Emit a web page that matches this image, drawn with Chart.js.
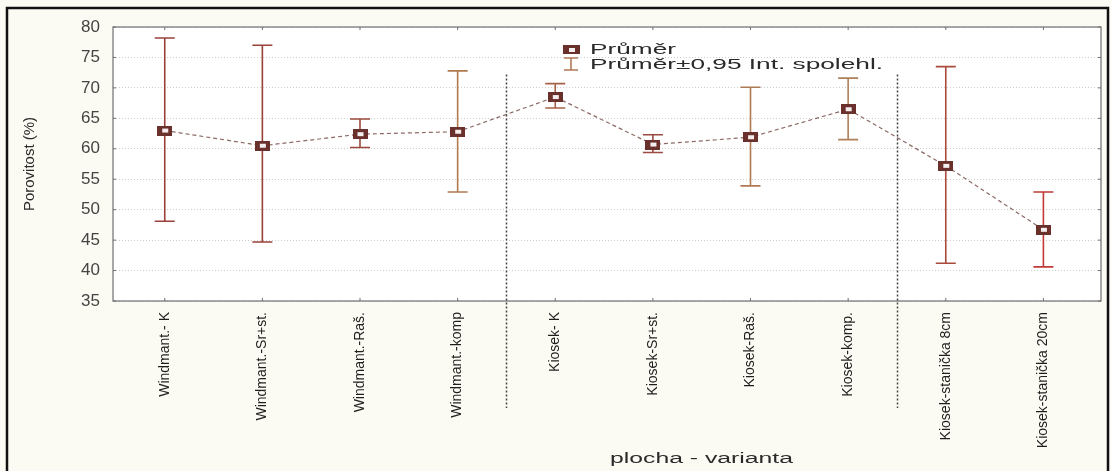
<!DOCTYPE html>
<html>
<head>
<meta charset="utf-8">
<script src="https://cdn.jsdelivr.net/npm/chart.js@4.4.0/dist/chart.umd.min.js"></script>
<style>
html,body{margin:0;padding:0;background:#fcfbf3;}
canvas{display:block;}
</style>
</head>
<body>
<canvas id="c" width="1111" height="471"></canvas>
<script>
const categories = ["Windmant.- K","Windmant.-Sr+st.","Windmant.-Raš.","Windmant.-komp","Kiosek- K","Kiosek-Sr+st.","Kiosek-Raš.","Kiosek-komp.","Kiosek-stanička 8cm","Kiosek-stanička 20cm"];
const means = [63.0, 60.5, 62.4, 62.8, 68.5, 60.7, 61.9, 66.5, 57.2, 46.7];
const upper = [78.2, 77.0, 64.9, 72.8, 70.7, 62.3, 70.1, 71.6, 73.5, 52.9];
const lower = [48.1, 44.7, 60.2, 52.9, 66.7, 59.4, 53.9, 61.5, 41.2, 40.6];
const yMin = 35, yMax = 80, yStep = 5;
const separatorsAfter = [3, 7];
const legendLabels = ["Průměr", "Průměr±0,95 Int. spolehl."];
const yTitle = "Porovitost (%)";
const xTitle = "plocha - varianta";

const barColors = ['#9a4038','#9a4038','#9a4a3c','#b07a50','#a5614a','#9a4a40','#b07a55','#b08058','#a84a3c','#c03a38'];
const markerColor = '#6a302b';

function makeMarker(w, h) {
  const c = document.createElement('canvas');
  c.width = w; c.height = h;
  const g = c.getContext('2d');
  g.fillStyle = markerColor;
  g.fillRect(0, 0, w, h);
  g.fillStyle = '#f4eeee';
  g.fillRect(Math.round(w/2-3), Math.round(h/2-2), 6, 4);
  return c;
}
const marker = makeMarker(15, 10);
const legendMarker = makeMarker(17, 9);

function stretchText(ctx, text, x, y, font, color, targetW) {
  ctx.save();
  ctx.font = font;
  ctx.fillStyle = color;
  ctx.textBaseline = 'alphabetic';
  ctx.textAlign = 'left';
  const w = ctx.measureText(text).width;
  const sx = targetW / w;
  ctx.translate(x, y);
  ctx.scale(sx, 1);
  ctx.fillText(text, 0, 0);
  ctx.restore();
}

const decor = {
  id: 'decor',
  beforeDraw(chart) {
    const ctx = chart.ctx;
    const a = chart.chartArea;
    ctx.save();
    ctx.fillStyle = '#fcfbf3';
    ctx.fillRect(0, 0, chart.width, chart.height);
    ctx.fillStyle = '#ffffff';
    ctx.fillRect(a.left, a.top, a.right - a.left, a.bottom - a.top);
    ctx.restore();
  },
  beforeDatasetsDraw(chart) {
    const ctx = chart.ctx;
    const a = chart.chartArea;
    const xs = chart.scales.x, ys = chart.scales.y;
    ctx.save();
    ctx.strokeStyle = '#6f6f6f';
    ctx.lineWidth = 1.2;
    ctx.strokeRect(a.left, a.top, a.right - a.left, a.bottom - a.top);
    ctx.lineWidth = 1;
    ctx.beginPath();
    categories.forEach((c, i) => {
      const px = xs.getPixelForValue(i);
      ctx.moveTo(px, a.top); ctx.lineTo(px, a.top + 3);
      ctx.moveTo(px, a.bottom); ctx.lineTo(px, a.bottom - 3);
    });
    for (let v = yMin; v <= yMax; v += yStep) {
      const py = ys.getPixelForValue(v);
      ctx.moveTo(a.left, py); ctx.lineTo(a.left + 3, py);
      ctx.moveTo(a.right, py); ctx.lineTo(a.right - 3, py);
    }
    ctx.stroke();
    categories.forEach((c, i) => {
      const px = xs.getPixelForValue(i);
      const pu = ys.getPixelForValue(upper[i]);
      const pl = ys.getPixelForValue(lower[i]);
      ctx.strokeStyle = barColors[i];
      ctx.lineWidth = 1.6;
      ctx.beginPath();
      ctx.moveTo(px, pu); ctx.lineTo(px, pl);
      ctx.moveTo(px - 10, pu); ctx.lineTo(px + 10, pu);
      ctx.moveTo(px - 10, pl); ctx.lineTo(px + 10, pl);
      ctx.stroke();
    });
    ctx.restore();
  },
  afterDraw(chart) {
    const ctx = chart.ctx;
    const a = chart.chartArea;
    const xs = chart.scales.x, ys = chart.scales.y;
    ctx.save();
    ctx.strokeStyle = '#444';
    ctx.lineWidth = 1.5;
    ctx.setLineDash([2, 2]);
    separatorsAfter.forEach(i => {
      const px = Math.round(xs.getPixelForValue(i + 0.5)) + 0.5;
      ctx.beginPath();
      ctx.moveTo(px, ys.getPixelForValue(72.2));
      ctx.lineTo(px, a.bottom + 107);
      ctx.stroke();
    });
    ctx.setLineDash([]);
    const lx = 571;
    ctx.drawImage(legendMarker, lx - 8, 45);
    ctx.strokeStyle = '#b07a55';
    ctx.lineWidth = 1.6;
    ctx.beginPath();
    ctx.moveTo(lx, 58); ctx.lineTo(lx, 70);
    ctx.moveTo(lx - 7, 58); ctx.lineTo(lx + 7, 58);
    ctx.moveTo(lx - 7, 70); ctx.lineTo(lx + 7, 70);
    ctx.stroke();
    stretchText(ctx, legendLabels[0], 590, 54, '15px "Liberation Sans", Arial, sans-serif', '#2a2a2a', 86);
    stretchText(ctx, legendLabels[1], 590, 69, '15px "Liberation Sans", Arial, sans-serif', '#2a2a2a', 293);
    stretchText(ctx, xTitle, 610, 463, '14px "Liberation Sans", Arial, sans-serif', '#2a2a2a', 183);
    ctx.strokeStyle = '#111';
    ctx.lineWidth = 2.5;
    ctx.beginPath();
    ctx.moveTo(7, chart.height);
    ctx.lineTo(7, 8);
    ctx.lineTo(1108, 8);
    ctx.lineTo(1108, chart.height);
    ctx.stroke();
    ctx.restore();
  }
};

new Chart(document.getElementById('c'), {
  type: 'line',
  data: {
    datasets: [{
      label: legendLabels[0],
      data: means.map((m, i) => ({x: i, y: m})),
      borderColor: '#8c6a66',
      borderWidth: 1.2,
      borderDash: [4, 3],
      tension: 0,
      pointStyle: marker,
      pointRadius: 7,
      pointHoverRadius: 7
    }]
  },
  options: {
    responsive: false,
    devicePixelRatio: 1,
    animation: false,
    events: [],
    layout: { padding: { left: 0, top: 27, right: 10, bottom: 0 } },
    plugins: { legend: { display: false }, tooltip: { enabled: false } },
    scales: {
      x: {
        type: 'linear',
        min: -0.53,
        max: 9.59,
        afterBuildTicks(scale) { scale.ticks = categories.map((c, i) => ({value: i})); },
        afterFit(scale) { scale.height = 170; },
        grid: { display: false, drawTicks: false },
        border: { display: false },
        ticks: {
          autoSkip: false,
          minRotation: 90,
          maxRotation: 90,
          padding: 11,
          color: '#1e1e1e',
          font: { family: '"Liberation Sans", Arial, sans-serif', size: 14 },
          callback: (v) => categories[v]
        }
      },
      y: {
        min: yMin,
        max: yMax,
        afterFit(scale) { scale.width = 113; },
        grid: { color: '#cdcdcd', lineWidth: 1, drawTicks: false },
        border: { display: false, dash: [1, 2] },
        ticks: {
          stepSize: yStep,
          padding: 13,
          color: '#444',
          font: { family: '"Liberation Sans", Arial, sans-serif', size: 17 }
        },
        title: {
          display: true,
          text: yTitle,
          color: '#2a2a2a',
          padding: { top: 21, bottom: 0 },
          font: { family: '"Liberation Sans", Arial, sans-serif', size: 15 }
        }
      }
    }
  },
  plugins: [decor]
});
</script>
</body>
</html>
